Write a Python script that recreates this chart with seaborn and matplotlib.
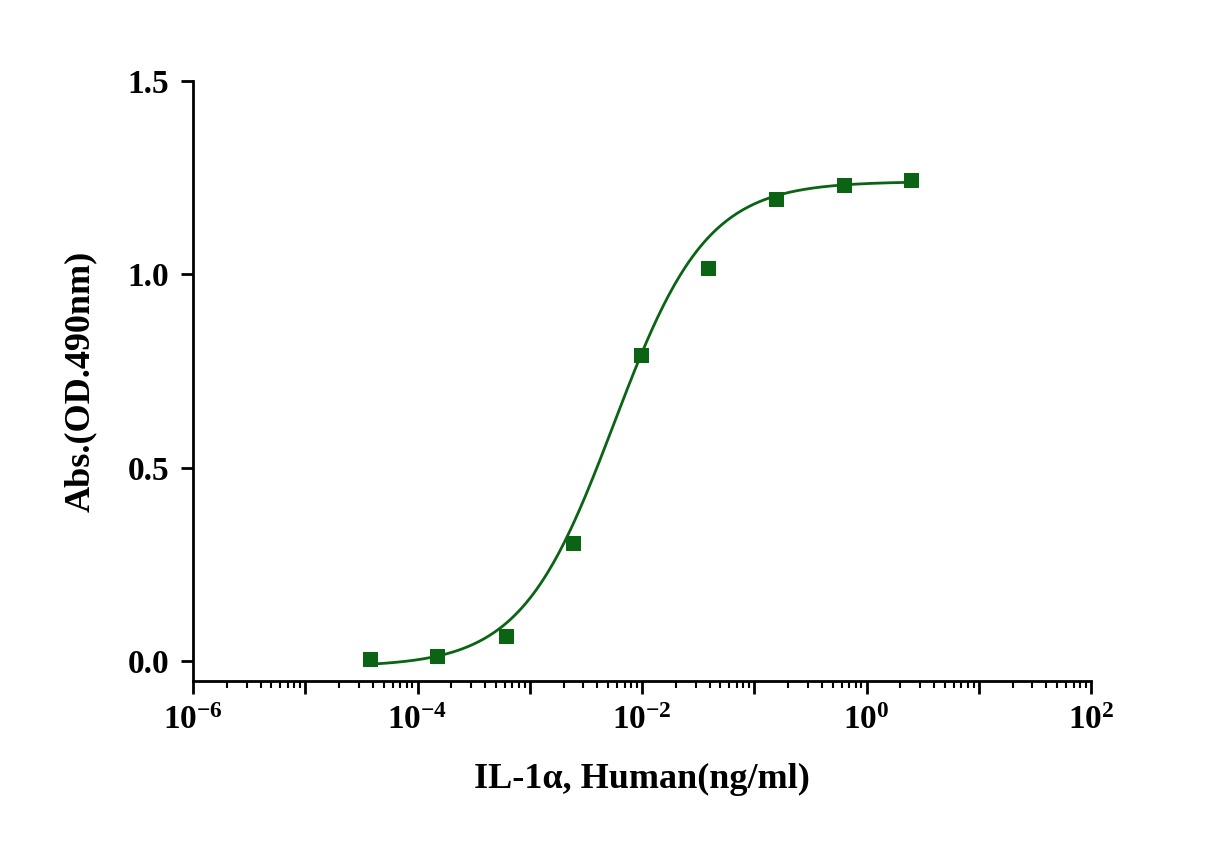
import numpy as np
import pandas as pd
import matplotlib
matplotlib.use("Agg")
import matplotlib.pyplot as plt
import matplotlib.ticker as mticker
import seaborn as sns

conc = [3.8e-5, 1.5e-4, 6.1e-4, 2.44e-3, 9.8e-3, 3.9e-2, 0.156, 0.625, 2.5]
absorb = [0.005, 0.012, 0.065, 0.305, 0.79, 1.015, 1.195, 1.23, 1.245]

# estimated 4PL fit parameters
bottom, top, ec50, hill = -0.015, 1.24, 5.6e-3, 1.05

df = pd.DataFrame({"conc": conc, "abs": absorb})
xs = np.logspace(np.log10(3.8e-5), np.log10(2.5), 300)
fit = pd.DataFrame({"conc": xs, "abs": bottom + (top - bottom) / (1 + (ec50 / xs) ** hill)})

plt.rcParams["font.family"] = "Liberation Serif"
plt.rcParams["font.weight"] = "bold"
plt.rcParams["mathtext.fontset"] = "custom"
plt.rcParams["mathtext.rm"] = "Liberation Serif:bold"
plt.rcParams["mathtext.bf"] = "Liberation Serif:bold"
plt.rcParams["mathtext.it"] = "Liberation Serif:bold:italic"
green = "#0a6414"

fig = plt.figure(figsize=(12.17, 8.67), dpi=100)
ax = fig.add_axes([0.1586, 0.2145, 0.7379, 0.6921])
sns.lineplot(data=fit, x="conc", y="abs", color=green, lw=2, ax=ax)
sns.scatterplot(data=df, x="conc", y="abs", color=green, marker="s", s=90,
                edgecolor=green, ax=ax, zorder=3)
ax.set_xscale("log")
ax.set_xlim(1e-6, 1e2)
ax.set_ylim(-0.052, 1.5)
ax.set_yticks([0, 0.5, 1.0, 1.5])
ax.yaxis.set_major_formatter(mticker.FormatStrFormatter("%.1f"))
ax.xaxis.set_major_locator(mticker.LogLocator(base=10, numticks=20))
ax.xaxis.set_minor_locator(mticker.LogLocator(base=10, subs=np.arange(2, 10), numticks=100))
ax.xaxis.set_minor_formatter(mticker.NullFormatter())
ax.xaxis.set_major_formatter(mticker.FuncFormatter(
    lambda v, p: "$\\mathrm{10^{%d}}$" % round(np.log10(v)) if round(np.log10(v)) % 2 == 0 else ""))
for s in ["top", "right"]:
    ax.spines[s].set_visible(False)
for s in ["left", "bottom"]:
    ax.spines[s].set_linewidth(2)
ax.tick_params(axis="both", which="major", width=2, length=9, pad=8)
ax.tick_params(axis="x", which="minor", width=1.5, length=5)
for lab in ax.get_yticklabels() + ax.get_xticklabels():
    lab.set_fontsize(24)
    lab.set_fontweight("bold")
ax.set_xlabel("IL-1α, Human(ng/ml)", fontsize=26, fontweight="bold", labelpad=20)
ax.set_ylabel("Abs.(OD.490nm)", fontsize=26, fontweight="bold", labelpad=22)
fig.savefig("out.png", dpi=100)
